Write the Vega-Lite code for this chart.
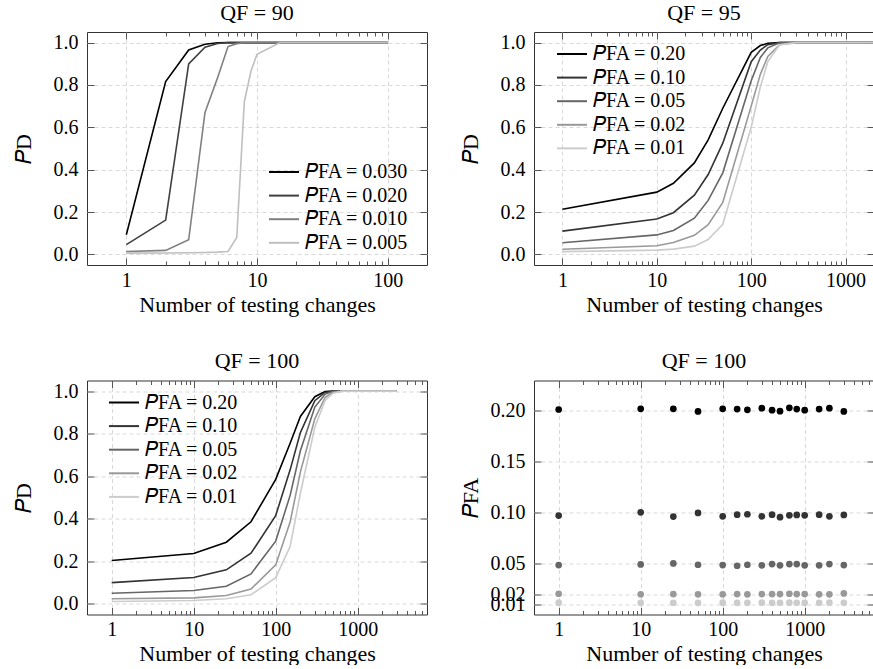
{
  "$schema": "https://vega.github.io/schema/vega-lite/v6.json",
  "padding": {"left": 11, "top": 1, "right": 0, "bottom": 0},
  "config": {
    "font": "Liberation Serif",
    "view": {"stroke": "#333333", "strokeWidth": 1},
    "axis": {
      "labelFont": "Liberation Serif", "labelFontSize": 20, "labelColor": "#000000",
      "titleFont": "Liberation Serif", "titleFontSize": 22, "titleFontWeight": "normal", "titleColor": "#000000",
      "domain": false, "tickColor": "#555555", "tickWidth": 1,
      "gridColor": "#d9d9d9", "gridDash": [4, 3], "gridWidth": 1,
      "labelFlush": false, "labelOverlap": false
    },
    "title": {"font": "Liberation Serif", "fontSize": 22, "fontWeight": "normal", "color": "#000000", "anchor": "middle", "offset": 7},
    "legend": {
      "labelFont": "Liberation Serif", "labelFontSize": 20, "labelColor": "#000000",
      "symbolType": "M-1.5,0H1.5", "symbolStrokeWidth": 2, "symbolSize": 400,
      "labelOffset": 10, "rowPadding": 2.6, "padding": 0, "title": null
    }
  },
  "datasets": {
    "qf90": [
      {"n": 1, "pd": 0.093, "pfa": "0.030"}, {"n": 2, "pd": 0.816, "pfa": "0.030"}, {"n": 3, "pd": 0.965, "pfa": "0.030"}, {"n": 4, "pd": 0.992, "pfa": "0.030"}, {"n": 5, "pd": 0.999, "pfa": "0.030"}, {"n": 6, "pd": 1, "pfa": "0.030"}, {"n": 7, "pd": 1, "pfa": "0.030"}, {"n": 8, "pd": 1, "pfa": "0.030"}, {"n": 9, "pd": 1, "pfa": "0.030"}, {"n": 10, "pd": 1, "pfa": "0.030"}, {"n": 15, "pd": 1, "pfa": "0.030"}, {"n": 20, "pd": 1, "pfa": "0.030"}, {"n": 30, "pd": 1, "pfa": "0.030"}, {"n": 50, "pd": 1, "pfa": "0.030"}, {"n": 100, "pd": 1, "pfa": "0.030"},
      {"n": 1, "pd": 0.046, "pfa": "0.020"}, {"n": 2, "pd": 0.162, "pfa": "0.020"}, {"n": 3, "pd": 0.899, "pfa": "0.020"}, {"n": 4, "pd": 0.978, "pfa": "0.020"}, {"n": 5, "pd": 0.996, "pfa": "0.020"}, {"n": 6, "pd": 1, "pfa": "0.020"}, {"n": 7, "pd": 1, "pfa": "0.020"}, {"n": 8, "pd": 1, "pfa": "0.020"}, {"n": 9, "pd": 1, "pfa": "0.020"}, {"n": 10, "pd": 1, "pfa": "0.020"}, {"n": 15, "pd": 1, "pfa": "0.020"}, {"n": 20, "pd": 1, "pfa": "0.020"}, {"n": 30, "pd": 1, "pfa": "0.020"}, {"n": 50, "pd": 1, "pfa": "0.020"}, {"n": 100, "pd": 1, "pfa": "0.020"},
      {"n": 1, "pd": 0.014, "pfa": "0.010"}, {"n": 2, "pd": 0.019, "pfa": "0.010"}, {"n": 3, "pd": 0.069, "pfa": "0.010"}, {"n": 4, "pd": 0.67, "pfa": "0.010"}, {"n": 5, "pd": 0.835, "pfa": "0.010"}, {"n": 6, "pd": 0.981, "pfa": "0.010"}, {"n": 7, "pd": 0.995, "pfa": "0.010"}, {"n": 8, "pd": 1, "pfa": "0.010"}, {"n": 9, "pd": 1, "pfa": "0.010"}, {"n": 10, "pd": 1, "pfa": "0.010"}, {"n": 15, "pd": 1, "pfa": "0.010"}, {"n": 20, "pd": 1, "pfa": "0.010"}, {"n": 30, "pd": 1, "pfa": "0.010"}, {"n": 50, "pd": 1, "pfa": "0.010"}, {"n": 100, "pd": 1, "pfa": "0.010"},
      {"n": 1, "pd": 0.006, "pfa": "0.005"}, {"n": 2, "pd": 0.007, "pfa": "0.005"}, {"n": 3, "pd": 0.008, "pfa": "0.005"}, {"n": 4, "pd": 0.009, "pfa": "0.005"}, {"n": 5, "pd": 0.011, "pfa": "0.005"}, {"n": 6, "pd": 0.014, "pfa": "0.005"}, {"n": 7, "pd": 0.08, "pfa": "0.005"}, {"n": 8, "pd": 0.722, "pfa": "0.005"}, {"n": 9, "pd": 0.866, "pfa": "0.005"}, {"n": 10, "pd": 0.945, "pfa": "0.005"}, {"n": 15, "pd": 1, "pfa": "0.005"}, {"n": 20, "pd": 1, "pfa": "0.005"}, {"n": 30, "pd": 1, "pfa": "0.005"}, {"n": 50, "pd": 1, "pfa": "0.005"}, {"n": 100, "pd": 1, "pfa": "0.005"}
    ],
    "qf95": [
      {"n": 1, "pd": 0.213, "pfa": "0.20"}, {"n": 10, "pd": 0.294, "pfa": "0.20"}, {"n": 15, "pd": 0.336, "pfa": "0.20"}, {"n": 25, "pd": 0.432, "pfa": "0.20"}, {"n": 35, "pd": 0.541, "pfa": "0.20"}, {"n": 50, "pd": 0.69, "pfa": "0.20"}, {"n": 100, "pd": 0.954, "pfa": "0.20"}, {"n": 125, "pd": 0.986, "pfa": "0.20"}, {"n": 150, "pd": 0.997, "pfa": "0.20"}, {"n": 200, "pd": 1, "pfa": "0.20"}, {"n": 300, "pd": 1, "pfa": "0.20"}, {"n": 500, "pd": 1, "pfa": "0.20"}, {"n": 1000, "pd": 1, "pfa": "0.20"}, {"n": 2000, "pd": 1, "pfa": "0.20"},
      {"n": 1, "pd": 0.11, "pfa": "0.10"}, {"n": 10, "pd": 0.167, "pfa": "0.10"}, {"n": 15, "pd": 0.197, "pfa": "0.10"}, {"n": 25, "pd": 0.28, "pfa": "0.10"}, {"n": 35, "pd": 0.377, "pfa": "0.10"}, {"n": 50, "pd": 0.525, "pfa": "0.10"}, {"n": 100, "pd": 0.91, "pfa": "0.10"}, {"n": 125, "pd": 0.965, "pfa": "0.10"}, {"n": 150, "pd": 0.99, "pfa": "0.10"}, {"n": 200, "pd": 1, "pfa": "0.10"}, {"n": 300, "pd": 1, "pfa": "0.10"}, {"n": 500, "pd": 1, "pfa": "0.10"}, {"n": 1000, "pd": 1, "pfa": "0.10"}, {"n": 2000, "pd": 1, "pfa": "0.10"},
      {"n": 1, "pd": 0.055, "pfa": "0.05"}, {"n": 10, "pd": 0.092, "pfa": "0.05"}, {"n": 15, "pd": 0.113, "pfa": "0.05"}, {"n": 25, "pd": 0.171, "pfa": "0.05"}, {"n": 35, "pd": 0.255, "pfa": "0.05"}, {"n": 50, "pd": 0.385, "pfa": "0.05"}, {"n": 100, "pd": 0.82, "pfa": "0.05"}, {"n": 125, "pd": 0.93, "pfa": "0.05"}, {"n": 150, "pd": 0.975, "pfa": "0.05"}, {"n": 200, "pd": 0.999, "pfa": "0.05"}, {"n": 300, "pd": 1, "pfa": "0.05"}, {"n": 500, "pd": 1, "pfa": "0.05"}, {"n": 1000, "pd": 1, "pfa": "0.05"}, {"n": 2000, "pd": 1, "pfa": "0.05"},
      {"n": 1, "pd": 0.024, "pfa": "0.02"}, {"n": 10, "pd": 0.041, "pfa": "0.02"}, {"n": 15, "pd": 0.056, "pfa": "0.02"}, {"n": 25, "pd": 0.09, "pfa": "0.02"}, {"n": 35, "pd": 0.14, "pfa": "0.02"}, {"n": 50, "pd": 0.245, "pfa": "0.02"}, {"n": 100, "pd": 0.7, "pfa": "0.02"}, {"n": 125, "pd": 0.85, "pfa": "0.02"}, {"n": 150, "pd": 0.935, "pfa": "0.02"}, {"n": 200, "pd": 0.99, "pfa": "0.02"}, {"n": 300, "pd": 1, "pfa": "0.02"}, {"n": 500, "pd": 1, "pfa": "0.02"}, {"n": 1000, "pd": 1, "pfa": "0.02"}, {"n": 2000, "pd": 1, "pfa": "0.02"},
      {"n": 1, "pd": 0.013, "pfa": "0.01"}, {"n": 10, "pd": 0.02, "pfa": "0.01"}, {"n": 15, "pd": 0.025, "pfa": "0.01"}, {"n": 25, "pd": 0.039, "pfa": "0.01"}, {"n": 35, "pd": 0.07, "pfa": "0.01"}, {"n": 50, "pd": 0.142, "pfa": "0.01"}, {"n": 100, "pd": 0.6, "pfa": "0.01"}, {"n": 125, "pd": 0.79, "pfa": "0.01"}, {"n": 150, "pd": 0.91, "pfa": "0.01"}, {"n": 200, "pd": 0.99, "pfa": "0.01"}, {"n": 300, "pd": 1, "pfa": "0.01"}, {"n": 500, "pd": 1, "pfa": "0.01"}, {"n": 1000, "pd": 1, "pfa": "0.01"}, {"n": 2000, "pd": 1, "pfa": "0.01"}
    ],
    "qf100": [
      {"n": 1, "pd": 0.204, "pfa": "0.20"}, {"n": 10, "pd": 0.237, "pfa": "0.20"}, {"n": 25, "pd": 0.29, "pfa": "0.20"}, {"n": 50, "pd": 0.386, "pfa": "0.20"}, {"n": 100, "pd": 0.585, "pfa": "0.20"}, {"n": 150, "pd": 0.755, "pfa": "0.20"}, {"n": 200, "pd": 0.881, "pfa": "0.20"}, {"n": 300, "pd": 0.974, "pfa": "0.20"}, {"n": 400, "pd": 0.998, "pfa": "0.20"}, {"n": 500, "pd": 1, "pfa": "0.20"}, {"n": 650, "pd": 1, "pfa": "0.20"}, {"n": 800, "pd": 1, "pfa": "0.20"}, {"n": 1000, "pd": 1, "pfa": "0.20"}, {"n": 1500, "pd": 1, "pfa": "0.20"}, {"n": 2000, "pd": 1, "pfa": "0.20"}, {"n": 3000, "pd": 1, "pfa": "0.20"},
      {"n": 1, "pd": 0.1, "pfa": "0.10"}, {"n": 10, "pd": 0.124, "pfa": "0.10"}, {"n": 25, "pd": 0.16, "pfa": "0.10"}, {"n": 50, "pd": 0.238, "pfa": "0.10"}, {"n": 100, "pd": 0.415, "pfa": "0.10"}, {"n": 150, "pd": 0.63, "pfa": "0.10"}, {"n": 200, "pd": 0.805, "pfa": "0.10"}, {"n": 300, "pd": 0.955, "pfa": "0.10"}, {"n": 400, "pd": 0.994, "pfa": "0.10"}, {"n": 500, "pd": 1, "pfa": "0.10"}, {"n": 650, "pd": 1, "pfa": "0.10"}, {"n": 800, "pd": 1, "pfa": "0.10"}, {"n": 1000, "pd": 1, "pfa": "0.10"}, {"n": 1500, "pd": 1, "pfa": "0.10"}, {"n": 2000, "pd": 1, "pfa": "0.10"}, {"n": 3000, "pd": 1, "pfa": "0.10"},
      {"n": 1, "pd": 0.05, "pfa": "0.05"}, {"n": 10, "pd": 0.063, "pfa": "0.05"}, {"n": 25, "pd": 0.083, "pfa": "0.05"}, {"n": 50, "pd": 0.141, "pfa": "0.05"}, {"n": 100, "pd": 0.295, "pfa": "0.05"}, {"n": 150, "pd": 0.51, "pfa": "0.05"}, {"n": 200, "pd": 0.72, "pfa": "0.05"}, {"n": 300, "pd": 0.925, "pfa": "0.05"}, {"n": 400, "pd": 0.985, "pfa": "0.05"}, {"n": 500, "pd": 0.999, "pfa": "0.05"}, {"n": 650, "pd": 1, "pfa": "0.05"}, {"n": 800, "pd": 1, "pfa": "0.05"}, {"n": 1000, "pd": 1, "pfa": "0.05"}, {"n": 1500, "pd": 1, "pfa": "0.05"}, {"n": 2000, "pd": 1, "pfa": "0.05"}, {"n": 3000, "pd": 1, "pfa": "0.05"},
      {"n": 1, "pd": 0.024, "pfa": "0.02"}, {"n": 10, "pd": 0.028, "pfa": "0.02"}, {"n": 25, "pd": 0.039, "pfa": "0.02"}, {"n": 50, "pd": 0.07, "pfa": "0.02"}, {"n": 100, "pd": 0.183, "pfa": "0.02"}, {"n": 150, "pd": 0.385, "pfa": "0.02"}, {"n": 200, "pd": 0.62, "pfa": "0.02"}, {"n": 300, "pd": 0.87, "pfa": "0.02"}, {"n": 400, "pd": 0.97, "pfa": "0.02"}, {"n": 500, "pd": 0.995, "pfa": "0.02"}, {"n": 650, "pd": 1, "pfa": "0.02"}, {"n": 800, "pd": 1, "pfa": "0.02"}, {"n": 1000, "pd": 1, "pfa": "0.02"}, {"n": 1500, "pd": 1, "pfa": "0.02"}, {"n": 2000, "pd": 1, "pfa": "0.02"}, {"n": 3000, "pd": 1, "pfa": "0.02"},
      {"n": 1, "pd": 0.011, "pfa": "0.01"}, {"n": 10, "pd": 0.016, "pfa": "0.01"}, {"n": 25, "pd": 0.024, "pfa": "0.01"}, {"n": 50, "pd": 0.043, "pfa": "0.01"}, {"n": 100, "pd": 0.123, "pfa": "0.01"}, {"n": 150, "pd": 0.27, "pfa": "0.01"}, {"n": 200, "pd": 0.52, "pfa": "0.01"}, {"n": 300, "pd": 0.83, "pfa": "0.01"}, {"n": 400, "pd": 0.955, "pfa": "0.01"}, {"n": 500, "pd": 0.99, "pfa": "0.01"}, {"n": 650, "pd": 1, "pfa": "0.01"}, {"n": 800, "pd": 1, "pfa": "0.01"}, {"n": 1000, "pd": 1, "pfa": "0.01"}, {"n": 1500, "pd": 1, "pfa": "0.01"}, {"n": 2000, "pd": 1, "pfa": "0.01"}, {"n": 3000, "pd": 1, "pfa": "0.01"}
    ],
    "pfa100": [
      {"n": 1, "v": 0.2006, "pfa": "0.20"}, {"n": 10, "v": 0.2013, "pfa": "0.20"}, {"n": 25, "v": 0.2013, "pfa": "0.20"}, {"n": 50, "v": 0.1987, "pfa": "0.20"}, {"n": 100, "v": 0.2013, "pfa": "0.20"}, {"n": 150, "v": 0.201, "pfa": "0.20"}, {"n": 200, "v": 0.2003, "pfa": "0.20"}, {"n": 300, "v": 0.2019, "pfa": "0.20"}, {"n": 400, "v": 0.2, "pfa": "0.20"}, {"n": 500, "v": 0.199, "pfa": "0.20"}, {"n": 650, "v": 0.2023, "pfa": "0.20"}, {"n": 800, "v": 0.201, "pfa": "0.20"}, {"n": 1000, "v": 0.2, "pfa": "0.20"}, {"n": 1500, "v": 0.201, "pfa": "0.20"}, {"n": 2000, "v": 0.2019, "pfa": "0.20"}, {"n": 3000, "v": 0.1987, "pfa": "0.20"},
      {"n": 1, "v": 0.0968, "pfa": "0.10"}, {"n": 10, "v": 0.1, "pfa": "0.10"}, {"n": 25, "v": 0.0958, "pfa": "0.10"}, {"n": 50, "v": 0.0994, "pfa": "0.10"}, {"n": 100, "v": 0.0961, "pfa": "0.10"}, {"n": 150, "v": 0.0977, "pfa": "0.10"}, {"n": 200, "v": 0.0981, "pfa": "0.10"}, {"n": 300, "v": 0.0961, "pfa": "0.10"}, {"n": 400, "v": 0.0977, "pfa": "0.10"}, {"n": 500, "v": 0.0952, "pfa": "0.10"}, {"n": 650, "v": 0.0971, "pfa": "0.10"}, {"n": 800, "v": 0.0974, "pfa": "0.10"}, {"n": 1000, "v": 0.0971, "pfa": "0.10"}, {"n": 1500, "v": 0.0977, "pfa": "0.10"}, {"n": 2000, "v": 0.0961, "pfa": "0.10"}, {"n": 3000, "v": 0.0974, "pfa": "0.10"},
      {"n": 1, "v": 0.0484, "pfa": "0.05"}, {"n": 10, "v": 0.049, "pfa": "0.05"}, {"n": 25, "v": 0.05, "pfa": "0.05"}, {"n": 50, "v": 0.0487, "pfa": "0.05"}, {"n": 100, "v": 0.0484, "pfa": "0.05"}, {"n": 150, "v": 0.0477, "pfa": "0.05"}, {"n": 200, "v": 0.0487, "pfa": "0.05"}, {"n": 300, "v": 0.0481, "pfa": "0.05"}, {"n": 400, "v": 0.0494, "pfa": "0.05"}, {"n": 500, "v": 0.0481, "pfa": "0.05"}, {"n": 650, "v": 0.0494, "pfa": "0.05"}, {"n": 800, "v": 0.0494, "pfa": "0.05"}, {"n": 1000, "v": 0.0481, "pfa": "0.05"}, {"n": 1500, "v": 0.0481, "pfa": "0.05"}, {"n": 2000, "v": 0.0494, "pfa": "0.05"}, {"n": 3000, "v": 0.0484, "pfa": "0.05"},
      {"n": 1, "v": 0.0203, "pfa": "0.02"}, {"n": 10, "v": 0.0197, "pfa": "0.02"}, {"n": 25, "v": 0.02, "pfa": "0.02"}, {"n": 50, "v": 0.0197, "pfa": "0.02"}, {"n": 100, "v": 0.0197, "pfa": "0.02"}, {"n": 150, "v": 0.02, "pfa": "0.02"}, {"n": 200, "v": 0.0197, "pfa": "0.02"}, {"n": 300, "v": 0.02, "pfa": "0.02"}, {"n": 400, "v": 0.02, "pfa": "0.02"}, {"n": 500, "v": 0.02, "pfa": "0.02"}, {"n": 650, "v": 0.0203, "pfa": "0.02"}, {"n": 800, "v": 0.02, "pfa": "0.02"}, {"n": 1000, "v": 0.02, "pfa": "0.02"}, {"n": 1500, "v": 0.0197, "pfa": "0.02"}, {"n": 2000, "v": 0.0197, "pfa": "0.02"}, {"n": 3000, "v": 0.0206, "pfa": "0.02"},
      {"n": 1, "v": 0.0116, "pfa": "0.01"}, {"n": 10, "v": 0.0114, "pfa": "0.01"}, {"n": 25, "v": 0.0115, "pfa": "0.01"}, {"n": 50, "v": 0.0113, "pfa": "0.01"}, {"n": 100, "v": 0.0116, "pfa": "0.01"}, {"n": 150, "v": 0.0114, "pfa": "0.01"}, {"n": 200, "v": 0.0115, "pfa": "0.01"}, {"n": 300, "v": 0.0116, "pfa": "0.01"}, {"n": 400, "v": 0.0114, "pfa": "0.01"}, {"n": 500, "v": 0.0115, "pfa": "0.01"}, {"n": 650, "v": 0.0116, "pfa": "0.01"}, {"n": 800, "v": 0.0115, "pfa": "0.01"}, {"n": 1000, "v": 0.0114, "pfa": "0.01"}, {"n": 1500, "v": 0.0115, "pfa": "0.01"}, {"n": 2000, "v": 0.0116, "pfa": "0.01"}, {"n": 3000, "v": 0.0114, "pfa": "0.01"}
    ]
  },
  "resolve": {"scale": {"color": "independent"}, "legend": {"color": "independent"}},
  "spacing": 33.5,
  "vconcat": [
    {
      "spacing": 30,
      "resolve": {"scale": {"color": "independent"}, "legend": {"color": "independent"}},
      "hconcat": [
        {
          "width": 340, "height": 233,
          "title": {"text": "QF = 90"},
          "data": {"name": "qf90"},
          "resolve": {"axis": {"x": "independent", "y": "independent"}},
          "layer": [
            {
              "mark": {"type": "line", "strokeWidth": 1.6, "clip": true},
              "encoding": {
                "x": {"field": "n", "type": "quantitative", "scale": {"type": "log", "domain": [0.5, 200], "nice": false},
                      "axis": {"orient": "bottom", "values": [1, 10, 100], "format": "d", "ticks": false, "grid": true, "labelPadding": 5, "title": "Number of testing changes", "titlePadding": 4}},
                "y": {"field": "pd", "type": "quantitative", "scale": {"domain": [-0.05, 1.05], "nice": false, "zero": false},
                      "axis": {"orient": "left", "values": [0, 0.2, 0.4, 0.6, 0.8, 1], "format": ".1f", "ticks": false, "grid": true, "labelPadding": 9, "title": "𝑃D", "titleX": -64, "titleBaseline": "middle"}},
                "color": {"field": "pfa", "type": "nominal",
                          "scale": {"domain": ["0.030", "0.020", "0.010", "0.005"], "range": ["#000000", "#404040", "#808080", "#bfbfbf"]},
                          "legend": {"orient": "none", "legendX": 186, "legendY": 129, "labelExpr": "'𝑃FA = ' + datum.label"}}
              }
            },
            {
              "mark": {"type": "line", "opacity": 0},
              "encoding": {
                "x": {"field": "n", "type": "quantitative", "scale": {"type": "log", "domain": [0.5, 200], "nice": false},
                      "axis": {"orient": "bottom", "values": [1, 10, 100], "labels": false, "grid": false, "title": null, "tickSize": -7}},
                "y": {"field": "pd", "type": "quantitative", "scale": {"domain": [-0.05, 1.05], "nice": false, "zero": false},
                      "axis": {"orient": "left", "values": [0, 0.2, 0.4, 0.6, 0.8, 1], "labels": false, "grid": false, "title": null, "tickSize": -7}}
              }
            },
            {
              "mark": {"type": "line", "opacity": 0},
              "encoding": {
                "x": {"field": "n", "type": "quantitative", "scale": {"type": "log", "domain": [0.5, 200], "nice": false},
                      "axis": {"orient": "top", "values": [1, 10, 100], "labels": false, "grid": false, "title": null, "tickSize": -7}},
                "y": {"field": "pd", "type": "quantitative", "scale": {"domain": [-0.05, 1.05], "nice": false, "zero": false},
                      "axis": {"orient": "right", "values": [0, 0.2, 0.4, 0.6, 0.8, 1], "labels": false, "grid": false, "title": null, "tickSize": -7}}
              }
            },
            {
              "mark": {"type": "line", "opacity": 0},
              "encoding": {
                "x": {"field": "n", "type": "quantitative", "scale": {"type": "log", "domain": [0.5, 200], "nice": false},
                      "axis": {"orient": "bottom", "values": [2, 3, 4, 5, 6, 7, 8, 9, 20, 30, 40, 50, 60, 70, 80, 90], "labels": false, "grid": false, "title": null, "tickSize": -4}},
                "y": {"field": "pd", "type": "quantitative", "scale": {"domain": [-0.05, 1.05], "nice": false, "zero": false}, "axis": null}
              }
            },
            {
              "mark": {"type": "line", "opacity": 0},
              "encoding": {
                "x": {"field": "n", "type": "quantitative", "scale": {"type": "log", "domain": [0.5, 200], "nice": false},
                      "axis": {"orient": "top", "values": [2, 3, 4, 5, 6, 7, 8, 9, 20, 30, 40, 50, 60, 70, 80, 90], "labels": false, "grid": false, "title": null, "tickSize": -4}},
                "y": {"field": "pd", "type": "quantitative", "scale": {"domain": [-0.05, 1.05], "nice": false, "zero": false}, "axis": null}
              }
            }
          ]
        },
        {
          "width": 340, "height": 233,
          "title": {"text": "QF = 95"},
          "data": {"name": "qf95"},
          "resolve": {"axis": {"x": "independent", "y": "independent"}},
          "layer": [
            {
              "mark": {"type": "line", "strokeWidth": 1.6, "clip": true},
              "encoding": {
                "x": {"field": "n", "type": "quantitative", "scale": {"type": "log", "domain": [0.5, 2000], "nice": false},
                      "axis": {"orient": "bottom", "values": [1, 10, 100, 1000], "format": "d", "ticks": false, "grid": true, "labelPadding": 5, "title": "Number of testing changes", "titlePadding": 4}},
                "y": {"field": "pd", "type": "quantitative", "scale": {"domain": [-0.05, 1.05], "nice": false, "zero": false},
                      "axis": {"orient": "left", "values": [0, 0.2, 0.4, 0.6, 0.8, 1], "format": ".1f", "ticks": false, "grid": true, "labelPadding": 9, "title": "𝑃D", "titleX": -64, "titleBaseline": "middle"}},
                "color": {"field": "pfa", "type": "nominal",
                          "scale": {"domain": ["0.20", "0.10", "0.05", "0.02", "0.01"], "range": ["#000000", "#333333", "#666666", "#999999", "#cccccc"]},
                          "legend": {"orient": "none", "legendX": 27, "legendY": 11, "labelExpr": "'𝑃FA = ' + datum.label"}}
              }
            },
            {
              "mark": {"type": "line", "opacity": 0},
              "encoding": {
                "x": {"field": "n", "type": "quantitative", "scale": {"type": "log", "domain": [0.5, 2000], "nice": false},
                      "axis": {"orient": "bottom", "values": [1, 10, 100, 1000], "labels": false, "grid": false, "title": null, "tickSize": -7}},
                "y": {"field": "pd", "type": "quantitative", "scale": {"domain": [-0.05, 1.05], "nice": false, "zero": false},
                      "axis": {"orient": "left", "values": [0, 0.2, 0.4, 0.6, 0.8, 1], "labels": false, "grid": false, "title": null, "tickSize": -7}}
              }
            },
            {
              "mark": {"type": "line", "opacity": 0},
              "encoding": {
                "x": {"field": "n", "type": "quantitative", "scale": {"type": "log", "domain": [0.5, 2000], "nice": false},
                      "axis": {"orient": "top", "values": [1, 10, 100, 1000], "labels": false, "grid": false, "title": null, "tickSize": -7}},
                "y": {"field": "pd", "type": "quantitative", "scale": {"domain": [-0.05, 1.05], "nice": false, "zero": false},
                      "axis": {"orient": "right", "values": [0, 0.2, 0.4, 0.6, 0.8, 1], "labels": false, "grid": false, "title": null, "tickSize": -7}}
              }
            },
            {
              "mark": {"type": "line", "opacity": 0},
              "encoding": {
                "x": {"field": "n", "type": "quantitative", "scale": {"type": "log", "domain": [0.5, 2000], "nice": false},
                      "axis": {"orient": "bottom", "values": [2, 3, 4, 5, 6, 7, 8, 9, 20, 30, 40, 50, 60, 70, 80, 90, 200, 300, 400, 500, 600, 700, 800, 900], "labels": false, "grid": false, "title": null, "tickSize": -4}},
                "y": {"field": "pd", "type": "quantitative", "scale": {"domain": [-0.05, 1.05], "nice": false, "zero": false}, "axis": null}
              }
            },
            {
              "mark": {"type": "line", "opacity": 0},
              "encoding": {
                "x": {"field": "n", "type": "quantitative", "scale": {"type": "log", "domain": [0.5, 2000], "nice": false},
                      "axis": {"orient": "top", "values": [2, 3, 4, 5, 6, 7, 8, 9, 20, 30, 40, 50, 60, 70, 80, 90, 200, 300, 400, 500, 600, 700, 800, 900], "labels": false, "grid": false, "title": null, "tickSize": -4}},
                "y": {"field": "pd", "type": "quantitative", "scale": {"domain": [-0.05, 1.05], "nice": false, "zero": false}, "axis": null}
              }
            }
          ]
        }
      ]
    },
    {
      "spacing": 30,
      "resolve": {"scale": {"color": "independent"}, "legend": {"color": "independent"}},
      "hconcat": [
        {
          "width": 340, "height": 234,
          "title": {"text": "QF = 100"},
          "data": {"name": "qf100"},
          "resolve": {"axis": {"x": "independent", "y": "independent"}},
          "layer": [
            {
              "mark": {"type": "line", "strokeWidth": 1.6, "clip": true},
              "encoding": {
                "x": {"field": "n", "type": "quantitative", "scale": {"type": "log", "domain": [0.5, 7000], "nice": false},
                      "axis": {"orient": "bottom", "values": [1, 10, 100, 1000], "format": "d", "ticks": false, "grid": true, "labelPadding": 5, "title": "Number of testing changes", "titlePadding": 4}},
                "y": {"field": "pd", "type": "quantitative", "scale": {"domain": [-0.05, 1.05], "nice": false, "zero": false},
                      "axis": {"orient": "left", "values": [0, 0.2, 0.4, 0.6, 0.8, 1], "format": ".1f", "ticks": false, "grid": true, "labelPadding": 9, "title": "𝑃D", "titleX": -64, "titleBaseline": "middle"}},
                "color": {"field": "pfa", "type": "nominal",
                          "scale": {"domain": ["0.20", "0.10", "0.05", "0.02", "0.01"], "range": ["#000000", "#333333", "#666666", "#999999", "#cccccc"]},
                          "legend": {"orient": "none", "legendX": 26, "legendY": 11, "labelExpr": "'𝑃FA = ' + datum.label"}}
              }
            },
            {
              "mark": {"type": "line", "opacity": 0},
              "encoding": {
                "x": {"field": "n", "type": "quantitative", "scale": {"type": "log", "domain": [0.5, 7000], "nice": false},
                      "axis": {"orient": "bottom", "values": [1, 10, 100, 1000], "labels": false, "grid": false, "title": null, "tickSize": -7}},
                "y": {"field": "pd", "type": "quantitative", "scale": {"domain": [-0.05, 1.05], "nice": false, "zero": false},
                      "axis": {"orient": "left", "values": [0, 0.2, 0.4, 0.6, 0.8, 1], "labels": false, "grid": false, "title": null, "tickSize": -7}}
              }
            },
            {
              "mark": {"type": "line", "opacity": 0},
              "encoding": {
                "x": {"field": "n", "type": "quantitative", "scale": {"type": "log", "domain": [0.5, 7000], "nice": false},
                      "axis": {"orient": "top", "values": [1, 10, 100, 1000], "labels": false, "grid": false, "title": null, "tickSize": -7}},
                "y": {"field": "pd", "type": "quantitative", "scale": {"domain": [-0.05, 1.05], "nice": false, "zero": false},
                      "axis": {"orient": "right", "values": [0, 0.2, 0.4, 0.6, 0.8, 1], "labels": false, "grid": false, "title": null, "tickSize": -7}}
              }
            },
            {
              "mark": {"type": "line", "opacity": 0},
              "encoding": {
                "x": {"field": "n", "type": "quantitative", "scale": {"type": "log", "domain": [0.5, 7000], "nice": false},
                      "axis": {"orient": "bottom", "values": [2, 3, 4, 5, 6, 7, 8, 9, 20, 30, 40, 50, 60, 70, 80, 90, 200, 300, 400, 500, 600, 700, 800, 900, 2000, 3000, 4000, 5000, 6000], "labels": false, "grid": false, "title": null, "tickSize": -4}},
                "y": {"field": "pd", "type": "quantitative", "scale": {"domain": [-0.05, 1.05], "nice": false, "zero": false}, "axis": null}
              }
            },
            {
              "mark": {"type": "line", "opacity": 0},
              "encoding": {
                "x": {"field": "n", "type": "quantitative", "scale": {"type": "log", "domain": [0.5, 7000], "nice": false},
                      "axis": {"orient": "top", "values": [2, 3, 4, 5, 6, 7, 8, 9, 20, 30, 40, 50, 60, 70, 80, 90, 200, 300, 400, 500, 600, 700, 800, 900, 2000, 3000, 4000, 5000, 6000], "labels": false, "grid": false, "title": null, "tickSize": -4}},
                "y": {"field": "pd", "type": "quantitative", "scale": {"domain": [-0.05, 1.05], "nice": false, "zero": false}, "axis": null}
              }
            }
          ]
        },
        {
          "width": 340, "height": 234,
          "title": {"text": "QF = 100"},
          "data": {"name": "pfa100"},
          "resolve": {"axis": {"x": "independent", "y": "independent"}},
          "layer": [
            {
              "mark": {"type": "point", "filled": true, "size": 45, "opacity": 1, "clip": true},
              "encoding": {
                "x": {"field": "n", "type": "quantitative", "scale": {"type": "log", "domain": [0.5, 7000], "nice": false},
                      "axis": {"orient": "bottom", "values": [1, 10, 100, 1000], "format": "d", "ticks": false, "grid": true, "labelPadding": 5, "title": "Number of testing changes", "titlePadding": 4}},
                "y": {"field": "v", "type": "quantitative", "scale": {"domain": [0, 0.229], "nice": false, "zero": false},
                      "axis": {"orient": "left", "values": [0.01, 0.02, 0.05, 0.1, 0.15, 0.2], "format": ".2f", "ticks": false, "grid": true, "labelPadding": 9, "title": "𝑃FA", "titleX": -64, "titleBaseline": "middle"}},
                "color": {"field": "pfa", "type": "nominal",
                          "scale": {"domain": ["0.20", "0.10", "0.05", "0.02", "0.01"], "range": ["#000000", "#333333", "#666666", "#999999", "#cccccc"]},
                          "legend": null}
              }
            },
            {
              "mark": {"type": "point", "opacity": 0},
              "encoding": {
                "x": {"field": "n", "type": "quantitative", "scale": {"type": "log", "domain": [0.5, 7000], "nice": false},
                      "axis": {"orient": "bottom", "values": [1, 10, 100, 1000], "labels": false, "grid": false, "title": null, "tickSize": -7}},
                "y": {"field": "v", "type": "quantitative", "scale": {"domain": [0, 0.229], "nice": false, "zero": false},
                      "axis": {"orient": "left", "values": [0.01, 0.02, 0.05, 0.1, 0.15, 0.2], "labels": false, "grid": false, "title": null, "tickSize": -7}}
              }
            },
            {
              "mark": {"type": "point", "opacity": 0},
              "encoding": {
                "x": {"field": "n", "type": "quantitative", "scale": {"type": "log", "domain": [0.5, 7000], "nice": false},
                      "axis": {"orient": "top", "values": [1, 10, 100, 1000], "labels": false, "grid": false, "title": null, "tickSize": -7}},
                "y": {"field": "v", "type": "quantitative", "scale": {"domain": [0, 0.229], "nice": false, "zero": false},
                      "axis": {"orient": "right", "values": [0.01, 0.02, 0.05, 0.1, 0.15, 0.2], "labels": false, "grid": false, "title": null, "tickSize": -7}}
              }
            },
            {
              "mark": {"type": "point", "opacity": 0},
              "encoding": {
                "x": {"field": "n", "type": "quantitative", "scale": {"type": "log", "domain": [0.5, 7000], "nice": false},
                      "axis": {"orient": "bottom", "values": [2, 3, 4, 5, 6, 7, 8, 9, 20, 30, 40, 50, 60, 70, 80, 90, 200, 300, 400, 500, 600, 700, 800, 900, 2000, 3000, 4000, 5000, 6000], "labels": false, "grid": false, "title": null, "tickSize": -4}},
                "y": {"field": "v", "type": "quantitative", "scale": {"domain": [0, 0.229], "nice": false, "zero": false}, "axis": null}
              }
            },
            {
              "mark": {"type": "point", "opacity": 0},
              "encoding": {
                "x": {"field": "n", "type": "quantitative", "scale": {"type": "log", "domain": [0.5, 7000], "nice": false},
                      "axis": {"orient": "top", "values": [2, 3, 4, 5, 6, 7, 8, 9, 20, 30, 40, 50, 60, 70, 80, 90, 200, 300, 400, 500, 600, 700, 800, 900, 2000, 3000, 4000, 5000, 6000], "labels": false, "grid": false, "title": null, "tickSize": -4}},
                "y": {"field": "v", "type": "quantitative", "scale": {"domain": [0, 0.229], "nice": false, "zero": false}, "axis": null}
              }
            }
          ]
        }
      ]
    }
  ]
}
